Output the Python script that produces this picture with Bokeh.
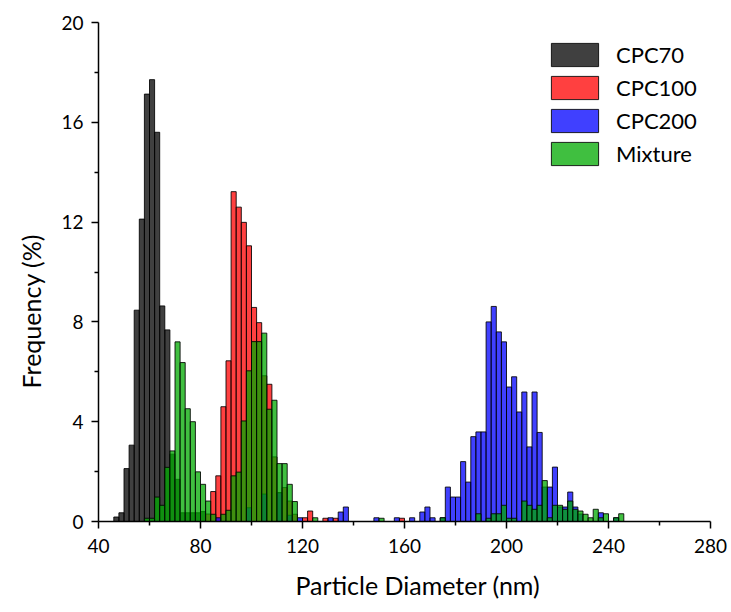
from bokeh.plotting import figure
from bokeh.models import Legend, LegendItem, FixedTicker, Title
from bokeh.embed import file_html
from bokeh.resources import INLINE

# Histogram bins are 2 nm wide; values are bin centres (nm) and frequency (%)
bin_width = 2

cpc70_x = [47, 49, 51, 53, 55, 57, 59, 61, 63, 65, 67, 69, 71, 73, 75, 77, 79, 81]
cpc70_y = [0.18, 0.35, 2.12, 3.06, 8.47, 12.12, 17.13, 17.71, 15.6, 8.64, 7.68,
           2.7, 1.69, 0.35, 0.35, 0.35, 0.35, 0.4]

cpc100_x = [83, 85, 87, 89, 91, 93, 95, 97, 99, 101, 103, 105, 107, 109, 111, 113,
            115, 117, 121, 123, 129, 133, 159]
cpc100_y = [0.3, 1.2, 1.83, 4.6, 6.44, 13.22, 12.6, 11.99, 11.05, 8.58, 7.97, 5.84,
            5.5, 2.59, 1.16, 1.36, 0.82, 0.29, 0.15, 0.42, 0.13, 0.13, 0.13]

cpc200_x = [87, 99, 105, 111, 115, 119, 131, 135, 137, 149, 157, 163, 167, 169, 171,
            175, 177, 179, 181, 183, 185, 187, 189, 191, 193, 195, 197, 199, 201, 203,
            205, 207, 209, 211, 213, 215, 217, 219, 221, 223, 225, 227, 229, 237, 243]
cpc200_y = [0.15, 0.55, 1.1, 1.15, 0.25, 0.15, 0.15, 0.38, 0.58, 0.15, 0.15, 0.15,
            0.38, 0.58, 0.15, 0.15, 1.38, 0.98, 0.98, 2.4, 1.58, 3.4, 3.59, 3.59, 8.0,
            8.62, 7.6, 7.2, 5.39, 5.8, 4.39, 5.19, 2.99, 5.19, 3.57, 1.38, 1.38, 2.18,
            0.58, 0.58, 1.18, 0.58, 0.3, 0.35, 0.15]

mixture_x = [59, 61, 63, 65, 67, 69, 71, 73, 75, 77, 79, 81, 83, 85, 89, 91, 93, 95,
             97, 99, 101, 103, 105, 107, 109, 111, 113, 115, 117, 125, 151, 175, 189,
             193, 195, 197, 199, 201, 203, 207, 209, 211, 213, 215, 217, 219, 221, 223,
             225, 227, 229, 231, 233, 235, 237, 239, 243, 245]
mixture_y = [0.13, 0.13, 0.98, 0.65, 2.17, 2.83, 7.2, 6.37, 4.52, 4.0, 1.99, 1.49,
             0.82, 0.29, 0.29, 0.45, 1.83, 1.98, 4.03, 6.04, 7.21, 7.21, 7.55, 4.5,
             4.86, 2.32, 2.32, 1.49, 0.8, 0.15, 0.13, 0.15, 0.31, 0.13, 0.31, 0.31,
             0.65, 0.13, 0.13, 0.82, 0.65, 0.49, 0.65, 1.64, 0.15, 0.65, 0.65, 0.49,
             0.82, 0.49, 0.42, 0.29, 0.15, 0.49, 0.15, 0.31, 0.15, 0.31]

series_names = ["CPC70", "CPC100", "CPC200", "Mixture"]
series_colors = ["#000000", "#ff0000", "#0000ff", "#00aa00"]

x_ticks = [40, 80, 120, 160, 200, 240, 280]
y_ticks = [0, 4, 8, 12, 16, 20]
x_title = "Particle Diameter (nm)"
y_title = "Frequency (%)"

FONT = "Lato"

p = figure(width=728, height=612, x_range=(40, 280), y_range=(0, 20),
           output_backend="svg", toolbar_location=None,
           min_border_left=98, min_border_right=18, min_border_top=22,
           min_border_bottom=91)
p.outline_line_color = None
p.xgrid.grid_line_color = None
p.ygrid.grid_line_color = None
p.background_fill_color = "white"

renderers = []
for xs, ys, col in [(cpc70_x, cpc70_y, series_colors[0]),
                    (cpc100_x, cpc100_y, series_colors[1]),
                    (cpc200_x, cpc200_y, series_colors[2]),
                    (mixture_x, mixture_y, series_colors[3])]:
    r = p.vbar(x=xs, top=ys, bottom=0, width=bin_width, fill_color=col,
               fill_alpha=0.75, line_color="black", line_alpha=0.85, line_width=1)
    renderers.append(r)

# axes
for ax in (p.xaxis[0], p.yaxis[0]):
    ax.axis_line_color = "black"
    ax.axis_line_width = 1.5
    ax.major_tick_line_color = "black"
    ax.major_tick_line_width = 1.5
    ax.minor_tick_line_color = "black"
    ax.minor_tick_line_width = 1.5
    ax.major_tick_in = 0
    ax.major_tick_out = 7
    ax.minor_tick_in = 0
    ax.minor_tick_out = 4
    ax.major_label_text_font = FONT
    ax.major_label_text_font_size = "19px"
    ax.major_label_text_color = "black"

p.xaxis.ticker = FixedTicker(ticks=x_ticks, minor_ticks=[60, 100, 140, 180, 220, 260])
p.yaxis.ticker = FixedTicker(ticks=y_ticks, minor_ticks=[2, 6, 10, 14, 18])
p.xaxis.major_label_standoff = 10
p.yaxis.major_label_standoff = 8

# axis titles, offset from the frame centre as in the original
p.add_layout(Title(text=x_title, align="left", offset=197, standoff=25,
                   text_font=FONT, text_font_size="25px", text_font_style="normal",
                   text_color="black"), "below")
p.add_layout(Title(text=y_title, align="left", offset=133, standoff=26,
                   text_font=FONT, text_font_size="25px", text_font_style="normal",
                   text_color="black"), "left")

legend = Legend(items=[LegendItem(label=n, renderers=[r])
                       for n, r in zip(series_names, renderers)],
                location=(447, 353))
legend.border_line_color = None
legend.background_fill_alpha = 0
legend.padding = 0
legend.margin = 0
legend.spacing = 4
legend.glyph_width = 59
legend.glyph_height = 29
legend.label_height = 29
legend.label_standoff = 12
legend.label_text_font = FONT
legend.label_text_font_size = "22px"
legend.label_text_color = "black"
p.add_layout(legend, "center")

open("out.html", "w").write(file_html(p, INLINE))
